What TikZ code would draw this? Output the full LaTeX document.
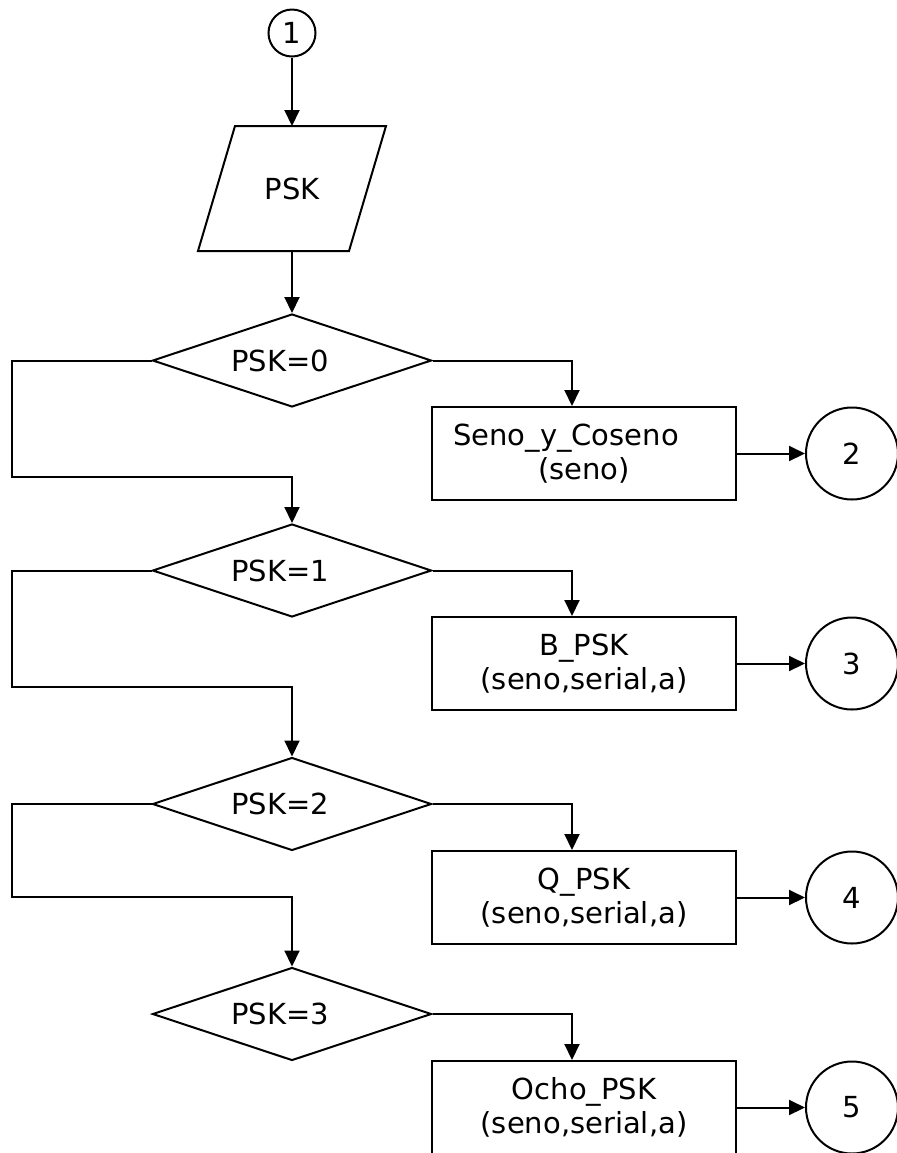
\documentclass[tikz,border=0pt]{standalone}
\usepackage{fontspec}
\setmainfont{DejaVu Sans}
\usetikzlibrary{arrows.meta,shapes.geometric}

\begin{document}
\begin{tikzpicture}[x=0.5pt,y=-0.5pt,line width=1pt,
  >={Triangle[length=8pt,width=7.5pt]},
  every node/.style={font=\fontsize{14.5}{17}\selectfont},
  conn/.style={draw,circle,inner sep=0pt},
  inbox/.style={rectangle,minimum width=74.5pt,minimum height=61.5pt},
  test/.style={draw,diamond,shape aspect=3,inner sep=0pt,minimum width=139.5pt,minimum height=46.5pt},
  proc/.style={draw,rectangle,align=center,minimum width=152pt,minimum height=46.5pt},
  flow/.style={->}]
\clip (0,0) rectangle (897,1153);
% inicio
\node[conn,minimum size=23.5pt] (c1) at (292,33) {1};
\node[inbox] (psk) at (292,188.5) {PSK};
\draw ([xshift=9.25pt]psk.north west) -- ([xshift=9.25pt]psk.north east)
  -- ([xshift=-9.25pt]psk.south east) -- ([xshift=-9.25pt]psk.south west) -- cycle;
% decisiones
\node[test] (d0) at (292,360.5) {PSK=0\hspace*{12pt}};
\node[test] (d1) at (292,570.5) {PSK=1\hspace*{12pt}};
\node[test] (d2) at (292,804) {PSK=2\hspace*{12pt}};
\node[test] (d3) at (292,1014) {PSK=3\hspace*{12pt}};
% procesos
\node[proc] (s0) at (584,453.5) {Seno\_y\_Coseno\hspace*{18pt}\\(seno)};
\node[proc] (s1) at (584,663.5) {B\_PSK\\(seno,serial,a)};
\node[proc] (s2) at (584,897.5) {Q\_PSK\\(seno,serial,a)};
\node[proc] (s3) at (584,1107.5) {Ocho\_PSK\\(seno,serial,a)};
% conectores de salida
\node[conn,minimum size=46pt] (c2) at (852,453.5) {2};
\node[conn,minimum size=46pt] (c3) at (852,663.5) {3};
\node[conn,minimum size=46pt] (c4) at (852,897.5) {4};
\node[conn,minimum size=46pt] (c5) at (852,1107.5) {5};
\draw[flow] (c1) -- (psk);
\draw[flow] (psk) -- (d0);
\draw[flow] (d0.east) -| ([xshift=-6pt]s0.north);
\draw[flow] (d1.east) -| ([xshift=-6pt]s1.north);
\draw[flow] (d2.east) -| ([xshift=-6pt]s2.north);
\draw[flow] (d3.east) -| ([xshift=-6pt]s3.north);
\draw[flow] (d0.west) -| (12,477) -| (d1.north);
\draw[flow] (d1.west) -| (12,687) -| (d2.north);
\draw[flow] (d2.west) -| (12,897) -| (d3.north);
\draw[flow] (s0) -- (c2);
\draw[flow] (s1) -- (c3);
\draw[flow] (s2) -- (c4);
\draw[flow] (s3) -- (c5);
\end{tikzpicture}
\end{document}
